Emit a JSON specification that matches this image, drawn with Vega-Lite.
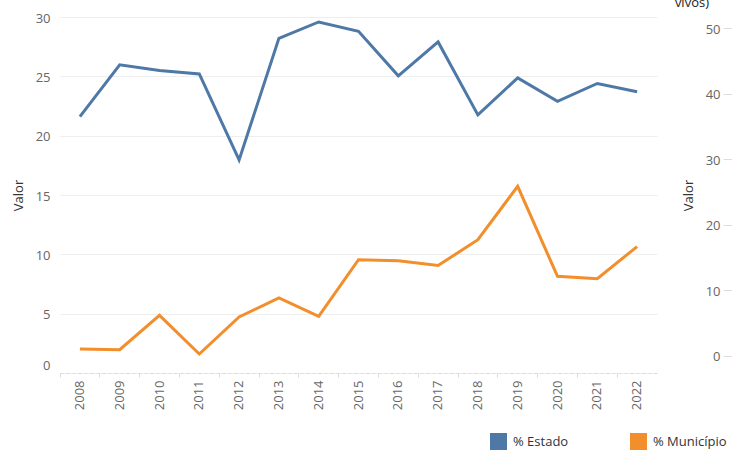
{
  "$schema": "https://vega.github.io/schema/vega-lite/v6.json",
  "autosize": {"type": "none"},
  "width": 597,
  "height": 356,
  "padding": {"left": 60, "top": 17, "right": 75, "bottom": 80},
  "background": "white",
  "config": {
    "font": "Open Sans",
    "view": {"stroke": null}
  },
  "title": {
    "text": "vivos)",
    "anchor": "end",
    "frame": "group",
    "orient": "top",
    "fontSize": 13,
    "fontWeight": "normal",
    "color": "#222",
    "dx": 52,
    "offset": 2
  },
  "data": {
    "values": [
      {"ano": "2008", "serie": "% Estado", "valor": 21.6},
      {"ano": "2009", "serie": "% Estado", "valor": 25.97},
      {"ano": "2010", "serie": "% Estado", "valor": 25.49},
      {"ano": "2011", "serie": "% Estado", "valor": 25.2},
      {"ano": "2012", "serie": "% Estado", "valor": 17.95},
      {"ano": "2013", "serie": "% Estado", "valor": 28.2},
      {"ano": "2014", "serie": "% Estado", "valor": 29.58},
      {"ano": "2015", "serie": "% Estado", "valor": 28.8},
      {"ano": "2016", "serie": "% Estado", "valor": 25.04},
      {"ano": "2017", "serie": "% Estado", "valor": 27.9},
      {"ano": "2018", "serie": "% Estado", "valor": 21.75},
      {"ano": "2019", "serie": "% Estado", "valor": 24.87},
      {"ano": "2020", "serie": "% Estado", "valor": 22.9},
      {"ano": "2021", "serie": "% Estado", "valor": 24.4},
      {"ano": "2022", "serie": "% Estado", "valor": 23.7},
      {"ano": "2008", "serie": "% Município", "valor": 1.07},
      {"ano": "2009", "serie": "% Município", "valor": 0.96},
      {"ano": "2010", "serie": "% Município", "valor": 6.2},
      {"ano": "2011", "serie": "% Município", "valor": 0.3},
      {"ano": "2012", "serie": "% Município", "valor": 5.95},
      {"ano": "2013", "serie": "% Município", "valor": 8.85},
      {"ano": "2014", "serie": "% Município", "valor": 6.05},
      {"ano": "2015", "serie": "% Município", "valor": 14.7},
      {"ano": "2016", "serie": "% Município", "valor": 14.55},
      {"ano": "2017", "serie": "% Município", "valor": 13.8},
      {"ano": "2018", "serie": "% Município", "valor": 17.75},
      {"ano": "2019", "serie": "% Município", "valor": 25.9},
      {"ano": "2020", "serie": "% Município", "valor": 12.15},
      {"ano": "2021", "serie": "% Município", "valor": 11.8},
      {"ano": "2022", "serie": "% Município", "valor": 16.7}
    ]
  },
  "encoding": {
    "x": {
      "field": "ano",
      "type": "ordinal",
      "scale": {"type": "band", "paddingInner": 0, "paddingOuter": 0},
      "axis": {
        "title": null,
        "labelAngle": -90,
        "labelColor": "#666",
        "labelFontSize": 13,
        "labelPadding": 3,
        "bandPosition": 0,
        "ticks": true,
        "tickSize": 4,
        "tickColor": "#dcdcdc",
        "domainColor": "#dcdcdc",
        "domainDash": [3, 3],
        "grid": false
      }
    },
    "color": {
      "field": "serie",
      "type": "nominal",
      "scale": {"domain": ["% Estado", "% Município"], "range": ["#4e79a7", "#f28e2b"]},
      "legend": {
        "title": null,
        "orient": "none",
        "direction": "horizontal",
        "legendX": 430,
        "legendY": 416,
        "symbolType": "square",
        "symbolSize": 289,
        "symbolStrokeWidth": 0,
        "symbolOpacity": 1,
        "labelFontSize": 13,
        "labelColor": "#333",
        "labelOffset": 6,
        "columnPadding": 61,
        "encode": {
          "symbols": {
            "update": {
              "fill": {"scale": "color", "field": "value"},
              "fillOpacity": {"value": 1},
              "strokeWidth": {"value": 0}
            }
          }
        }
      }
    }
  },
  "layer": [
    {
      "transform": [{"filter": "datum.serie === '% Estado'"}],
      "mark": {"type": "line", "strokeWidth": 3},
      "encoding": {
        "y": {
          "field": "valor",
          "type": "quantitative",
          "scale": {"domain": [0, 30], "nice": false, "zero": false},
          "axis": {
            "title": "Valor",
            "orient": "left",
            "values": [0, 5, 10, 15, 20, 25, 30],
            "domain": false,
            "ticks": false,
            "grid": true,
            "gridColor": "#eeeeee",
            "labelColor": "#666",
            "labelFontSize": 13,
            "labelPadding": 10,
            "labelOffset": {"condition": {"test": "datum.value === 0", "value": -8}, "value": 1},
            "titleColor": "#333",
            "titleFontSize": 13,
            "titleFontWeight": "normal",
            "titleX": -42,
            "titleY": 178,
            "titleAngle": 270,
            "titleAlign": "center",
            "titleBaseline": "middle"
          }
        }
      }
    },
    {
      "transform": [{"filter": "datum.serie === '% Município'"}],
      "mark": {"type": "line", "strokeWidth": 3},
      "encoding": {
        "y": {
          "field": "valor",
          "type": "quantitative",
          "scale": {"domain": [-2.6, 51.74], "nice": false, "zero": false},
          "axis": {
            "title": "Valor",
            "orient": "right",
            "offset": 75,
            "values": [0, 10, 20, 30, 40, 50],
            "domain": false,
            "grid": false,
            "ticks": true,
            "tickSize": -9,
            "tickColor": "#dddddd",
            "labelAlign": "right",
            "labelPadding": -3,
            "labelColor": "#666",
            "labelFontSize": 13,
            "labelOffset": 1,
            "titleColor": "#333",
            "titleFontSize": 13,
            "titleFontWeight": "normal",
            "titleX": -44,
            "titleY": 178,
            "titleAngle": 270,
            "titleAlign": "center",
            "titleBaseline": "middle"
          }
        }
      }
    }
  ],
  "resolve": {"scale": {"y": "independent"}}
}
